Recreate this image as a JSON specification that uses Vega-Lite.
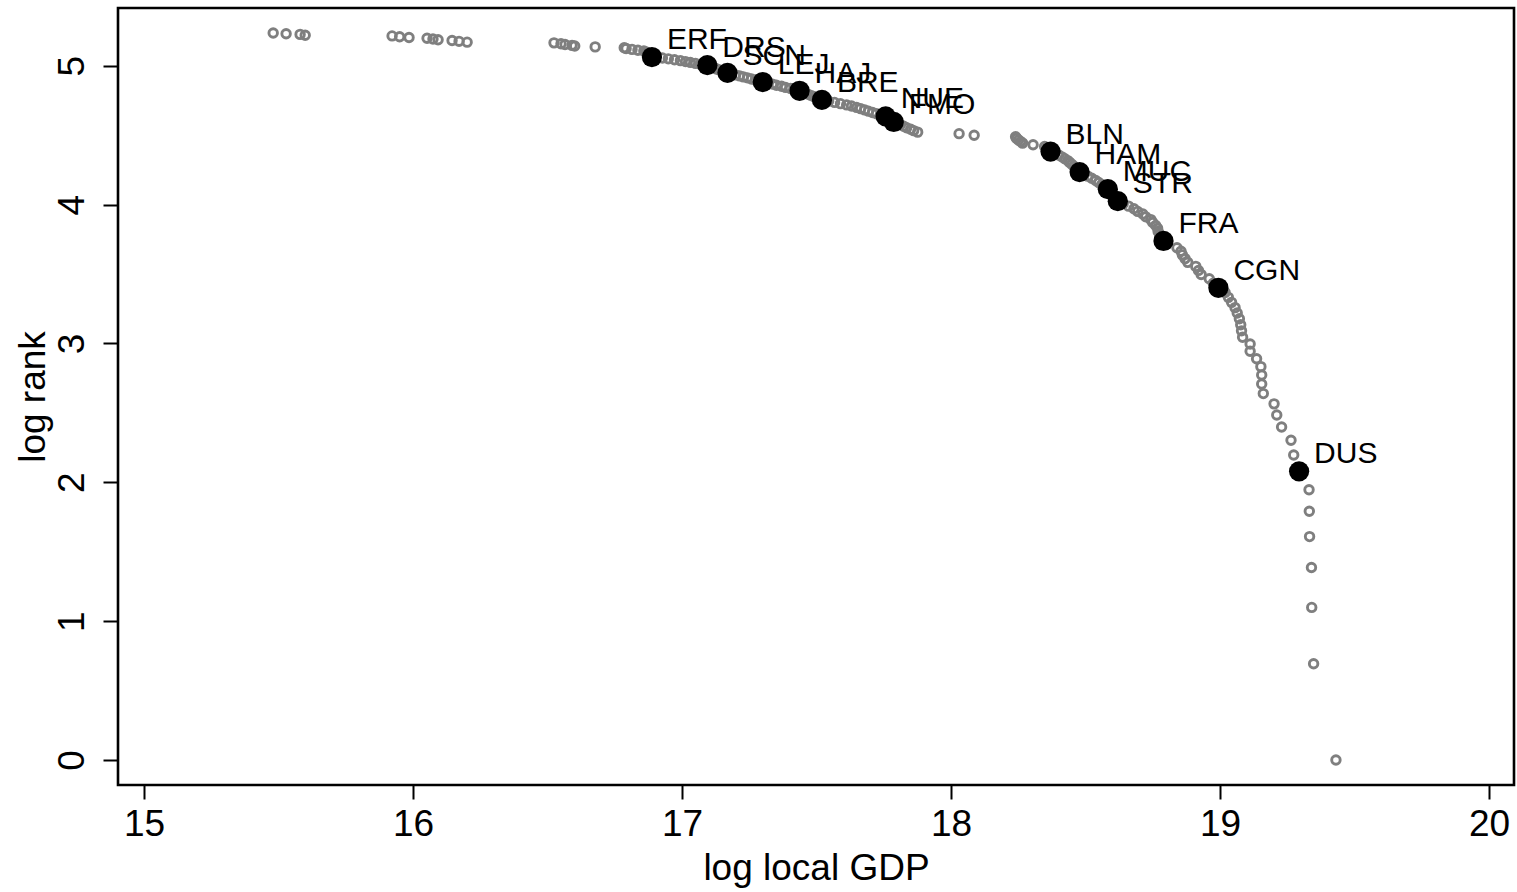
{
  "$schema": "https://vega.github.io/schema/vega-lite/v6.json",
  "width": 1396,
  "height": 777,
  "autosize": {"type": "none"},
  "padding": {"left": 118, "top": 8, "right": 3, "bottom": 107},
  "background": "white",
  "config": {
    "view": {"stroke": "black", "strokeWidth": 2.6},
    "font": "Liberation Sans",
    "axis": {
      "grid": false,
      "domain": false,
      "tickColor": "black",
      "tickWidth": 2,
      "labelColor": "black",
      "titleColor": "black",
      "labelFont": "Liberation Sans",
      "titleFont": "Liberation Sans",
      "labelFontSize": 37,
      "titleFontSize": 37,
      "titleFontWeight": "normal"
    }
  },
  "data": {
    "values": [
      {"rank": 1, "gdp": 19.431, "logrank": 0, "city": ""},
      {"rank": 2, "gdp": 19.348, "logrank": 0.693, "city": ""},
      {"rank": 3, "gdp": 19.341, "logrank": 1.099, "city": ""},
      {"rank": 4, "gdp": 19.340, "logrank": 1.386, "city": ""},
      {"rank": 5, "gdp": 19.333, "logrank": 1.609, "city": ""},
      {"rank": 6, "gdp": 19.332, "logrank": 1.792, "city": ""},
      {"rank": 7, "gdp": 19.331, "logrank": 1.946, "city": ""},
      {"rank": 8, "gdp": 19.294, "logrank": 2.079, "city": "DUS"},
      {"rank": 9, "gdp": 19.274, "logrank": 2.197, "city": ""},
      {"rank": 10, "gdp": 19.264, "logrank": 2.303, "city": ""},
      {"rank": 11, "gdp": 19.229, "logrank": 2.398, "city": ""},
      {"rank": 12, "gdp": 19.211, "logrank": 2.485, "city": ""},
      {"rank": 13, "gdp": 19.201, "logrank": 2.565, "city": ""},
      {"rank": 14, "gdp": 19.161, "logrank": 2.639, "city": ""},
      {"rank": 15, "gdp": 19.155, "logrank": 2.708, "city": ""},
      {"rank": 16, "gdp": 19.155, "logrank": 2.773, "city": ""},
      {"rank": 17, "gdp": 19.152, "logrank": 2.833, "city": ""},
      {"rank": 18, "gdp": 19.136, "logrank": 2.890, "city": ""},
      {"rank": 19, "gdp": 19.112, "logrank": 2.944, "city": ""},
      {"rank": 20, "gdp": 19.112, "logrank": 2.996, "city": ""},
      {"rank": 21, "gdp": 19.084, "logrank": 3.045, "city": ""},
      {"rank": 22, "gdp": 19.080, "logrank": 3.091, "city": ""},
      {"rank": 23, "gdp": 19.077, "logrank": 3.135, "city": ""},
      {"rank": 24, "gdp": 19.072, "logrank": 3.178, "city": ""},
      {"rank": 25, "gdp": 19.064, "logrank": 3.219, "city": ""},
      {"rank": 26, "gdp": 19.056, "logrank": 3.258, "city": ""},
      {"rank": 27, "gdp": 19.043, "logrank": 3.296, "city": ""},
      {"rank": 28, "gdp": 19.031, "logrank": 3.332, "city": ""},
      {"rank": 29, "gdp": 19.019, "logrank": 3.367, "city": ""},
      {"rank": 30, "gdp": 18.994, "logrank": 3.401, "city": "CGN"},
      {"rank": 31, "gdp": 18.975, "logrank": 3.434, "city": ""},
      {"rank": 32, "gdp": 18.960, "logrank": 3.466, "city": ""},
      {"rank": 33, "gdp": 18.930, "logrank": 3.497, "city": ""},
      {"rank": 34, "gdp": 18.920, "logrank": 3.526, "city": ""},
      {"rank": 35, "gdp": 18.910, "logrank": 3.555, "city": ""},
      {"rank": 36, "gdp": 18.880, "logrank": 3.584, "city": ""},
      {"rank": 37, "gdp": 18.870, "logrank": 3.611, "city": ""},
      {"rank": 38, "gdp": 18.860, "logrank": 3.638, "city": ""},
      {"rank": 39, "gdp": 18.855, "logrank": 3.664, "city": ""},
      {"rank": 40, "gdp": 18.840, "logrank": 3.689, "city": ""},
      {"rank": 41, "gdp": 18.800, "logrank": 3.714, "city": ""},
      {"rank": 42, "gdp": 18.790, "logrank": 3.738, "city": "FRA"},
      {"rank": 43, "gdp": 18.780, "logrank": 3.761, "city": ""},
      {"rank": 44, "gdp": 18.775, "logrank": 3.784, "city": ""},
      {"rank": 45, "gdp": 18.770, "logrank": 3.807, "city": ""},
      {"rank": 46, "gdp": 18.768, "logrank": 3.829, "city": ""},
      {"rank": 47, "gdp": 18.761, "logrank": 3.850, "city": ""},
      {"rank": 48, "gdp": 18.750, "logrank": 3.871, "city": ""},
      {"rank": 49, "gdp": 18.743, "logrank": 3.892, "city": ""},
      {"rank": 50, "gdp": 18.724, "logrank": 3.912, "city": ""},
      {"rank": 51, "gdp": 18.713, "logrank": 3.932, "city": ""},
      {"rank": 52, "gdp": 18.694, "logrank": 3.951, "city": ""},
      {"rank": 53, "gdp": 18.680, "logrank": 3.970, "city": ""},
      {"rank": 54, "gdp": 18.660, "logrank": 3.989, "city": ""},
      {"rank": 55, "gdp": 18.640, "logrank": 4.007, "city": ""},
      {"rank": 56, "gdp": 18.620, "logrank": 4.025, "city": "STR"},
      {"rank": 57, "gdp": 18.609, "logrank": 4.043, "city": ""},
      {"rank": 58, "gdp": 18.600, "logrank": 4.060, "city": ""},
      {"rank": 59, "gdp": 18.594, "logrank": 4.078, "city": ""},
      {"rank": 60, "gdp": 18.586, "logrank": 4.094, "city": ""},
      {"rank": 61, "gdp": 18.583, "logrank": 4.111, "city": "MUC"},
      {"rank": 62, "gdp": 18.571, "logrank": 4.127, "city": ""},
      {"rank": 63, "gdp": 18.560, "logrank": 4.143, "city": ""},
      {"rank": 64, "gdp": 18.549, "logrank": 4.159, "city": ""},
      {"rank": 65, "gdp": 18.538, "logrank": 4.174, "city": ""},
      {"rank": 66, "gdp": 18.523, "logrank": 4.190, "city": ""},
      {"rank": 67, "gdp": 18.508, "logrank": 4.205, "city": ""},
      {"rank": 68, "gdp": 18.493, "logrank": 4.220, "city": ""},
      {"rank": 69, "gdp": 18.478, "logrank": 4.234, "city": "HAM"},
      {"rank": 70, "gdp": 18.471, "logrank": 4.248, "city": ""},
      {"rank": 71, "gdp": 18.464, "logrank": 4.263, "city": ""},
      {"rank": 72, "gdp": 18.456, "logrank": 4.277, "city": ""},
      {"rank": 73, "gdp": 18.449, "logrank": 4.290, "city": ""},
      {"rank": 74, "gdp": 18.441, "logrank": 4.304, "city": ""},
      {"rank": 75, "gdp": 18.434, "logrank": 4.317, "city": ""},
      {"rank": 76, "gdp": 18.423, "logrank": 4.331, "city": ""},
      {"rank": 77, "gdp": 18.412, "logrank": 4.344, "city": ""},
      {"rank": 78, "gdp": 18.400, "logrank": 4.357, "city": ""},
      {"rank": 79, "gdp": 18.385, "logrank": 4.369, "city": ""},
      {"rank": 80, "gdp": 18.370, "logrank": 4.382, "city": "BLN"},
      {"rank": 81, "gdp": 18.362, "logrank": 4.394, "city": ""},
      {"rank": 82, "gdp": 18.356, "logrank": 4.407, "city": ""},
      {"rank": 83, "gdp": 18.348, "logrank": 4.419, "city": ""},
      {"rank": 84, "gdp": 18.305, "logrank": 4.431, "city": ""},
      {"rank": 85, "gdp": 18.266, "logrank": 4.443, "city": ""},
      {"rank": 86, "gdp": 18.259, "logrank": 4.454, "city": ""},
      {"rank": 87, "gdp": 18.251, "logrank": 4.466, "city": ""},
      {"rank": 88, "gdp": 18.244, "logrank": 4.477, "city": ""},
      {"rank": 89, "gdp": 18.240, "logrank": 4.489, "city": ""},
      {"rank": 90, "gdp": 18.086, "logrank": 4.500, "city": ""},
      {"rank": 91, "gdp": 18.030, "logrank": 4.511, "city": ""},
      {"rank": 92, "gdp": 17.876, "logrank": 4.522, "city": ""},
      {"rank": 93, "gdp": 17.861, "logrank": 4.533, "city": ""},
      {"rank": 94, "gdp": 17.850, "logrank": 4.543, "city": ""},
      {"rank": 95, "gdp": 17.835, "logrank": 4.554, "city": ""},
      {"rank": 96, "gdp": 17.824, "logrank": 4.564, "city": ""},
      {"rank": 97, "gdp": 17.812, "logrank": 4.575, "city": ""},
      {"rank": 98, "gdp": 17.800, "logrank": 4.585, "city": ""},
      {"rank": 99, "gdp": 17.787, "logrank": 4.595, "city": "FMO"},
      {"rank": 100, "gdp": 17.779, "logrank": 4.605, "city": ""},
      {"rank": 101, "gdp": 17.772, "logrank": 4.615, "city": ""},
      {"rank": 102, "gdp": 17.764, "logrank": 4.625, "city": ""},
      {"rank": 103, "gdp": 17.757, "logrank": 4.635, "city": "NUE"},
      {"rank": 104, "gdp": 17.738, "logrank": 4.644, "city": ""},
      {"rank": 105, "gdp": 17.723, "logrank": 4.654, "city": ""},
      {"rank": 106, "gdp": 17.708, "logrank": 4.663, "city": ""},
      {"rank": 107, "gdp": 17.693, "logrank": 4.673, "city": ""},
      {"rank": 108, "gdp": 17.679, "logrank": 4.682, "city": ""},
      {"rank": 109, "gdp": 17.664, "logrank": 4.691, "city": ""},
      {"rank": 110, "gdp": 17.649, "logrank": 4.700, "city": ""},
      {"rank": 111, "gdp": 17.630, "logrank": 4.710, "city": ""},
      {"rank": 112, "gdp": 17.612, "logrank": 4.718, "city": ""},
      {"rank": 113, "gdp": 17.589, "logrank": 4.727, "city": ""},
      {"rank": 114, "gdp": 17.567, "logrank": 4.736, "city": ""},
      {"rank": 115, "gdp": 17.545, "logrank": 4.745, "city": ""},
      {"rank": 116, "gdp": 17.520, "logrank": 4.754, "city": "BRE"},
      {"rank": 117, "gdp": 17.511, "logrank": 4.762, "city": ""},
      {"rank": 118, "gdp": 17.500, "logrank": 4.771, "city": ""},
      {"rank": 119, "gdp": 17.489, "logrank": 4.779, "city": ""},
      {"rank": 120, "gdp": 17.478, "logrank": 4.787, "city": ""},
      {"rank": 121, "gdp": 17.467, "logrank": 4.796, "city": ""},
      {"rank": 122, "gdp": 17.455, "logrank": 4.804, "city": ""},
      {"rank": 123, "gdp": 17.448, "logrank": 4.812, "city": ""},
      {"rank": 124, "gdp": 17.437, "logrank": 4.820, "city": "HAJ"},
      {"rank": 125, "gdp": 17.422, "logrank": 4.828, "city": ""},
      {"rank": 126, "gdp": 17.403, "logrank": 4.836, "city": ""},
      {"rank": 127, "gdp": 17.385, "logrank": 4.844, "city": ""},
      {"rank": 128, "gdp": 17.370, "logrank": 4.852, "city": ""},
      {"rank": 129, "gdp": 17.351, "logrank": 4.860, "city": ""},
      {"rank": 130, "gdp": 17.336, "logrank": 4.868, "city": ""},
      {"rank": 131, "gdp": 17.318, "logrank": 4.875, "city": ""},
      {"rank": 132, "gdp": 17.300, "logrank": 4.883, "city": "LEJ"},
      {"rank": 133, "gdp": 17.288, "logrank": 4.890, "city": ""},
      {"rank": 134, "gdp": 17.273, "logrank": 4.898, "city": ""},
      {"rank": 135, "gdp": 17.258, "logrank": 4.905, "city": ""},
      {"rank": 136, "gdp": 17.243, "logrank": 4.913, "city": ""},
      {"rank": 137, "gdp": 17.228, "logrank": 4.920, "city": ""},
      {"rank": 138, "gdp": 17.214, "logrank": 4.927, "city": ""},
      {"rank": 139, "gdp": 17.199, "logrank": 4.934, "city": ""},
      {"rank": 140, "gdp": 17.184, "logrank": 4.942, "city": ""},
      {"rank": 141, "gdp": 17.169, "logrank": 4.949, "city": "SCN"},
      {"rank": 142, "gdp": 17.161, "logrank": 4.956, "city": ""},
      {"rank": 143, "gdp": 17.150, "logrank": 4.963, "city": ""},
      {"rank": 144, "gdp": 17.139, "logrank": 4.970, "city": ""},
      {"rank": 145, "gdp": 17.128, "logrank": 4.977, "city": ""},
      {"rank": 146, "gdp": 17.121, "logrank": 4.984, "city": ""},
      {"rank": 147, "gdp": 17.113, "logrank": 4.990, "city": ""},
      {"rank": 148, "gdp": 17.102, "logrank": 4.997, "city": ""},
      {"rank": 149, "gdp": 17.094, "logrank": 5.004, "city": "DRS"},
      {"rank": 150, "gdp": 17.068, "logrank": 5.011, "city": ""},
      {"rank": 151, "gdp": 17.050, "logrank": 5.017, "city": ""},
      {"rank": 152, "gdp": 17.031, "logrank": 5.024, "city": ""},
      {"rank": 153, "gdp": 17.013, "logrank": 5.030, "city": ""},
      {"rank": 154, "gdp": 16.994, "logrank": 5.037, "city": ""},
      {"rank": 155, "gdp": 16.972, "logrank": 5.043, "city": ""},
      {"rank": 156, "gdp": 16.949, "logrank": 5.050, "city": ""},
      {"rank": 157, "gdp": 16.927, "logrank": 5.056, "city": ""},
      {"rank": 158, "gdp": 16.888, "logrank": 5.063, "city": "ERF"},
      {"rank": 159, "gdp": 16.886, "logrank": 5.069, "city": ""},
      {"rank": 160, "gdp": 16.883, "logrank": 5.075, "city": ""},
      {"rank": 161, "gdp": 16.880, "logrank": 5.081, "city": ""},
      {"rank": 162, "gdp": 16.877, "logrank": 5.088, "city": ""},
      {"rank": 163, "gdp": 16.872, "logrank": 5.094, "city": ""},
      {"rank": 164, "gdp": 16.866, "logrank": 5.100, "city": ""},
      {"rank": 165, "gdp": 16.858, "logrank": 5.106, "city": ""},
      {"rank": 166, "gdp": 16.836, "logrank": 5.112, "city": ""},
      {"rank": 167, "gdp": 16.814, "logrank": 5.118, "city": ""},
      {"rank": 168, "gdp": 16.792, "logrank": 5.124, "city": ""},
      {"rank": 169, "gdp": 16.785, "logrank": 5.130, "city": ""},
      {"rank": 170, "gdp": 16.677, "logrank": 5.136, "city": ""},
      {"rank": 171, "gdp": 16.601, "logrank": 5.142, "city": ""},
      {"rank": 172, "gdp": 16.591, "logrank": 5.147, "city": ""},
      {"rank": 173, "gdp": 16.565, "logrank": 5.153, "city": ""},
      {"rank": 174, "gdp": 16.550, "logrank": 5.159, "city": ""},
      {"rank": 175, "gdp": 16.524, "logrank": 5.165, "city": ""},
      {"rank": 176, "gdp": 16.201, "logrank": 5.170, "city": ""},
      {"rank": 177, "gdp": 16.171, "logrank": 5.176, "city": ""},
      {"rank": 178, "gdp": 16.145, "logrank": 5.182, "city": ""},
      {"rank": 179, "gdp": 16.093, "logrank": 5.187, "city": ""},
      {"rank": 180, "gdp": 16.074, "logrank": 5.193, "city": ""},
      {"rank": 181, "gdp": 16.052, "logrank": 5.198, "city": ""},
      {"rank": 182, "gdp": 15.985, "logrank": 5.204, "city": ""},
      {"rank": 183, "gdp": 15.950, "logrank": 5.209, "city": ""},
      {"rank": 184, "gdp": 15.922, "logrank": 5.215, "city": ""},
      {"rank": 185, "gdp": 15.599, "logrank": 5.220, "city": ""},
      {"rank": 186, "gdp": 15.580, "logrank": 5.226, "city": ""},
      {"rank": 187, "gdp": 15.528, "logrank": 5.231, "city": ""},
      {"rank": 188, "gdp": 15.480, "logrank": 5.236, "city": ""}
    ]
  },
  "encoding": {
    "x": {
      "field": "gdp",
      "type": "quantitative",
      "scale": {"domain": [14.903, 20.093], "nice": false, "zero": false},
      "axis": {
        "title": "log local GDP",
        "values": [15, 16, 17, 18, 19, 20],
        "tickSize": 14,
        "labelPadding": 7,
        "titlePadding": 8,
        "labelFlush": false,
        "labelOverlap": false
      }
    },
    "y": {
      "field": "logrank",
      "type": "quantitative",
      "scale": {"domain": [-0.18, 5.416], "nice": false, "zero": false},
      "axis": {
        "title": "log rank",
        "values": [0, 1, 2, 3, 4, 5],
        "tickSize": 15,
        "labelAngle": 270,
        "labelAlign": "center",
        "labelBaseline": "alphabetic",
        "labelPadding": 20,
        "titlePadding": 1,
        "labelFlush": false,
        "labelOverlap": false
      }
    }
  },
  "layer": [
    {
      "mark": {"type": "point", "shape": "circle", "filled": false, "stroke": "#7f7f7f", "strokeWidth": 2.9, "size": 72, "opacity": 1}
    },
    {
      "transform": [{"filter": "datum.city != ''"}],
      "mark": {"type": "circle", "color": "black", "size": 410, "opacity": 1}
    },
    {
      "transform": [{"filter": "datum.city != ''"}],
      "mark": {"type": "text", "align": "left", "baseline": "alphabetic", "dx": 15, "dy": -8, "fontSize": 30, "font": "Liberation Sans", "color": "black"},
      "encoding": {"text": {"field": "city"}}
    }
  ]
}
